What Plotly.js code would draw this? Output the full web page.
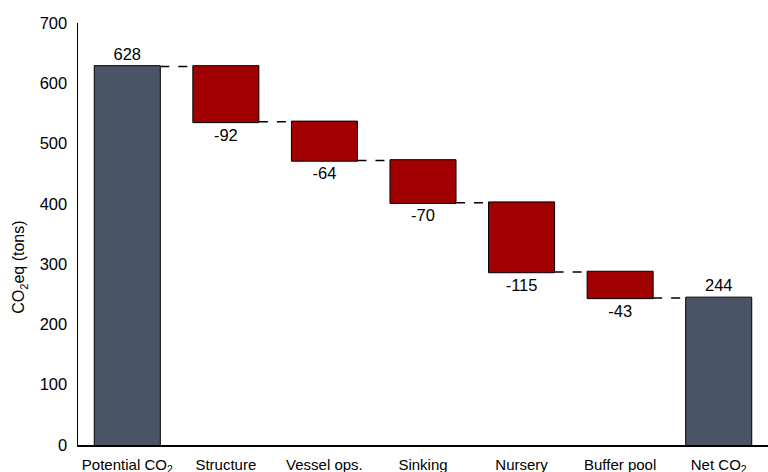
<!DOCTYPE html>
<html>
<head>
<meta charset="utf-8">
<script src="https://cdn.plot.ly/plotly-3.0.1.min.js"></script>
<style>html,body{margin:0;padding:0;background:#fff;}#chart{width:768px;height:472px;}</style>
</head>
<body>
<div id="chart"></div>
<script>
var categories = ["Potential CO<sub>2</sub>", "Structure", "Vessel ops.", "Sinking", "Nursery", "Buffer pool", "Net CO<sub>2</sub>"];
var values = [628, -92, -64, -70, -115, -43, 244];
var measures = ["absolute", "relative", "relative", "relative", "relative", "relative", "total"];
var labels = ["628", "-92", "-64", "-70", "-115", "-43", "244"];
var yTicks = [0, 100, 200, 300, 400, 500, 600, 700];
var yTitle = "CO<sub>2</sub>eq (tons)";

var trace = {
  type: "waterfall",
  x: categories,
  y: values.map(function(v, i){ return measures[i] === "total" ? 0 : v; }),
  measure: measures,
  text: labels,
  textposition: "outside",
  textfont: {family: "Liberation Sans, Arial, sans-serif", size: 16.5, color: "#000"},
  cliponaxis: false,
  width: 0.67,
  connector: {mode: "between", line: {color: "#000", width: 1.5, dash: "dash"}},
  decreasing: {marker: {color: "#a00000", line: {color: "#000", width: 1}}},
  increasing: {marker: {color: "#a00000", line: {color: "#000", width: 1}}},
  totals: {marker: {color: "#4a5467", line: {color: "#000", width: 1}}},
  hoverinfo: "none"
};

var layout = {
  width: 768, height: 472,
  margin: {l: 78, r: 0, t: 23, b: 27},
  paper_bgcolor: "#fff", plot_bgcolor: "#fff",
  showlegend: false,
  font: {family: "Liberation Sans, Arial, sans-serif", color: "#000"},
  xaxis: {
    type: "category",
    range: [-0.5, 6.5],
    showline: true, linecolor: "#000", linewidth: 1.5,
    ticks: "", showgrid: false, zeroline: false,
    tickfont: {size: 15, color: "#000"},
    ticklabelstandoff: 5
  },
  yaxis: {
    range: [0, 700],
    tickvals: yTicks,
    showline: true, linecolor: "#000", linewidth: 1.5,
    ticks: "", showgrid: false, zeroline: false,
    tickfont: {size: 16.5, color: "#000"},
    ticklabelstandoff: 6
  },
  annotations: [{
    text: yTitle,
    xref: "paper", yref: "paper",
    x: -0.084, y: 0.42,
    xanchor: "center", yanchor: "middle",
    textangle: -90, showarrow: false,
    font: {size: 16, color: "#000"}
  }]
};

Plotly.newPlot("chart", [trace], layout, {displayModeBar: false, staticPlot: true});
</script>
</body>
</html>
